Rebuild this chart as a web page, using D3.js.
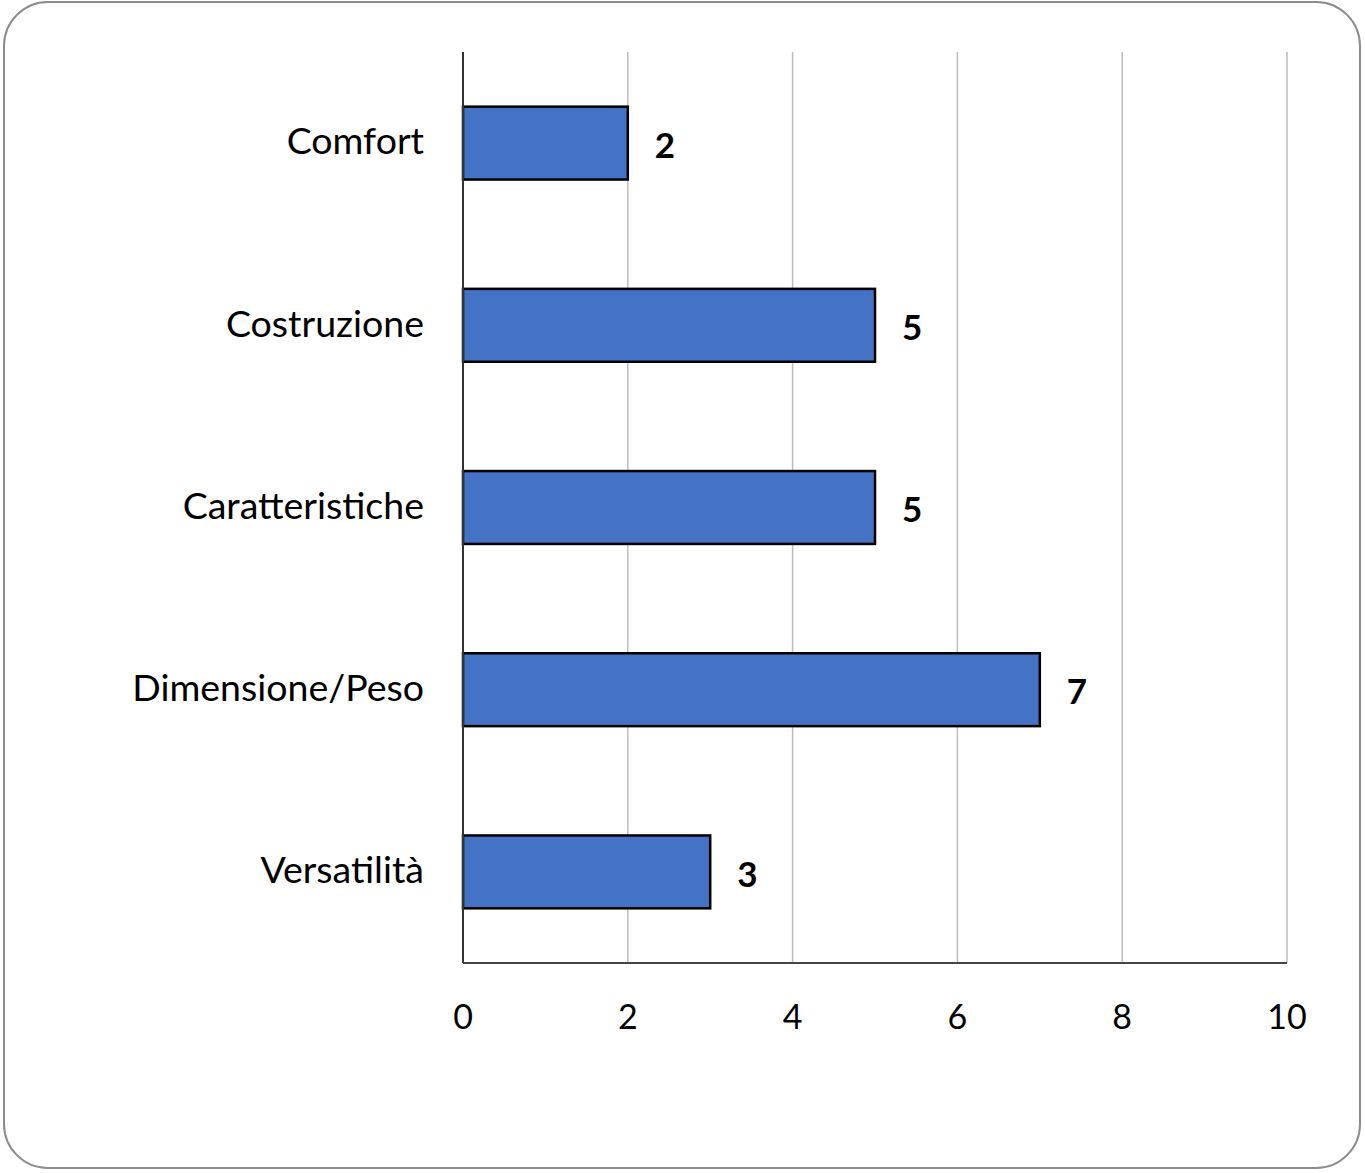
<!DOCTYPE html>
<html lang="it">
<head>
<meta charset="UTF-8">
<title>Bar chart</title>
<script src="https://d3js.org/d3.v7.min.js"></script>
<style>
  body { margin: 0; background: #fff; }
  svg { display: block; }
  text { font-family: Lato, "Open Sans", sans-serif; fill: #000; }
</style>
</head>
<body>
<svg width="1365" height="1173"></svg>
<script>
// === Data ===
const categories = ["Comfort", "Costruzione", "Caratteristiche", "Dimensione/Peso", "Versatilità"];
const values = [2, 5, 5, 7, 3];
const xTicks = [0, 2, 4, 6, 8, 10];

const svg = d3.select("svg");
const margin = { top: 52, right: 78, bottom: 210, left: 463 };
const W = 1365, H = 1173;

// outer rounded frame
svg.append("rect")
  .attr("x", 4).attr("y", 2)
  .attr("width", W - 9).attr("height", H - 7)
  .attr("rx", 44).attr("ry", 44)
  .attr("fill", "#fff")
  .attr("stroke", "#8c8c8c")
  .attr("stroke-width", 2);

const x = d3.scaleLinear().domain([0, 10]).range([margin.left, W - margin.right]);
const y = d3.scaleBand().domain(categories).range([margin.top, H - margin.bottom]).paddingInner(0.6).paddingOuter(0.3);

// gridlines
svg.append("g")
  .selectAll("line")
  .data(xTicks.slice(1))
  .join("line")
  .attr("x1", d => x(d)).attr("x2", d => x(d))
  .attr("y1", margin.top).attr("y2", H - margin.bottom)
  .attr("stroke", "#bdbdbd")
  .attr("stroke-width", 1.5);

// bars
svg.append("g")
  .selectAll("rect")
  .data(values)
  .join("rect")
  .attr("x", x(0))
  .attr("y", (d, i) => y(categories[i]))
  .attr("width", d => x(d) - x(0))
  .attr("height", y.bandwidth())
  .attr("fill", "#4472C4")
  .attr("stroke", "#000")
  .attr("stroke-width", 2.5);

// axes lines
svg.append("line")
  .attr("x1", x(0)).attr("x2", x(0))
  .attr("y1", margin.top).attr("y2", H - margin.bottom)
  .attr("stroke", "#333").attr("stroke-width", 2);
svg.append("line")
  .attr("x1", x(0)).attr("x2", x(10))
  .attr("y1", H - margin.bottom).attr("y2", H - margin.bottom)
  .attr("stroke", "#444").attr("stroke-width", 2);

// tick labels
svg.append("g")
  .selectAll("text")
  .data(xTicks)
  .join("text")
  .attr("x", d => x(d))
  .attr("y", H - margin.bottom + 66)
  .attr("text-anchor", "middle")
  .attr("font-size", 34)
  .text(d => d);

// category labels
svg.append("g")
  .selectAll("text")
  .data(categories)
  .join("text")
  .attr("x", margin.left - 39)
  .attr("y", d => y(d) + y.bandwidth() / 2)
  .attr("dy", "0.3em")
  .attr("text-anchor", "end")
  .attr("font-size", 37.5)
  .text(d => d);

// value labels
svg.append("g")
  .selectAll("text")
  .data(values)
  .join("text")
  .attr("x", d => x(d) + 27)
  .attr("y", (d, i) => y(categories[i]) + y.bandwidth() / 2)
  .attr("dy", "0.42em")
  .attr("font-size", 35)
  .attr("font-weight", "bold")
  .text(d => d);
</script>
</body>
</html>
